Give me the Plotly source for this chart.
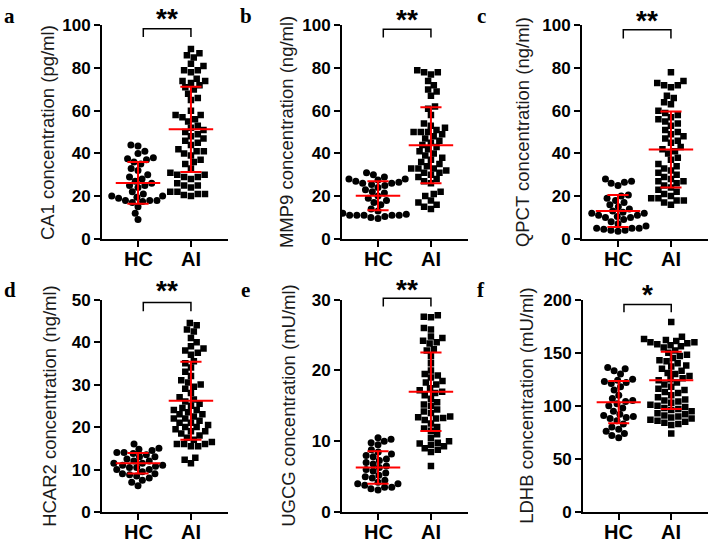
import math
import plotly.graph_objects as go

W, H = 709, 552

groups = ["HC", "AI"]

# ---- data ----
ca1_hc = [44, 43.5, 41, 40, 38, 37.5, 37, 36, 35, 33, 32, 30, 29, 28, 27, 26, 25, 25, 24,
          22, 21, 20, 20, 19.5, 19, 18, 18, 18, 17.5, 17, 15, 12, 9]
ca1_ai = [89, 87, 86, 85, 82, 81, 79, 79, 78, 75, 74, 74, 73, 72, 71, 70, 68, 66, 65, 60,
          58, 58, 57, 56, 55, 53, 52, 51, 50, 49, 48, 47, 46, 45, 44, 42, 41, 41, 40, 39,
          37, 36, 35, 33, 31, 30, 30, 29, 29, 28, 26, 25, 25, 24, 22, 22, 21, 21, 20.5, 20]
ca1_mean = [26.2, 51.3]
ca1_sd = [9.8, 20.0]

mmp9_hc = [31, 30, 29, 28, 28, 27.5, 27, 26.5, 26, 26, 25.5, 25, 24, 23, 22, 21.5, 20, 19,
           18, 17, 16, 14, 13, 12, 11.5, 11, 11, 11, 11, 11, 10.5, 10, 9.5]
mmp9_ai = [79, 78, 78, 77, 74, 72, 70, 69, 67, 62, 61, 58, 54, 53, 52, 51, 50, 50, 50, 49,
           48, 47, 46, 45, 44, 43, 42, 41, 40, 39, 38, 37, 36, 35, 34, 33, 33, 33, 32, 31,
           31, 30, 29, 28, 27, 26, 22, 21, 20, 18, 17, 16, 15, 14]
mmp9_mean = [20.2, 43.8]
mmp9_sd = [6.8, 17.8]

qpct_hc = [28, 27, 26.5, 26, 25, 20.5, 20, 19, 18, 17, 16, 15, 14, 13, 12.5, 12, 12, 11,
           11, 10.5, 10, 10, 9, 8, 7, 6, 5, 5, 5, 4.5, 4, 4, 3.5]
qpct_ai = [78, 74, 73, 72, 72, 71, 67, 66, 64, 63, 60, 59, 58, 57, 56, 55, 54, 53, 51, 50,
           49, 48, 47, 46, 45, 43, 42, 41, 40, 38, 37, 35, 34, 33, 32, 31, 30, 29, 28, 27,
           27, 26, 25, 24, 23, 22, 21, 20, 19, 19, 18, 18, 17, 16]
qpct_mean = [13.0, 41.9]
qpct_sd = [7.5, 17.8]

hcar2_hc = [16, 15, 14.8, 14.5, 14, 14, 13.8, 13.5, 13, 13, 12.5, 12, 12, 11.5, 11.5, 11,
            11, 10.8, 10.5, 10.5, 10, 10, 9.5, 9, 9, 8.8, 8.5, 8, 7.5, 7, 6.2]
hcar2_ai = [44.5, 44, 43, 42.5, 41, 40, 39, 38.5, 38, 37.5, 37, 35.5, 35, 34, 33, 32, 31,
            30.5, 30, 29.5, 29, 28, 27, 26.5, 26, 25.5, 25, 24.5, 24, 24, 23.5, 23, 23,
            22.5, 22, 22, 21.5, 21, 21, 20.5, 20, 20, 19.5, 19, 19, 18.5, 18, 17.5, 17,
            16.5, 16, 16, 16, 15.5, 15.5, 12.8, 12.3, 11.5]
hcar2_mean = [11.5, 26.2]
hcar2_sd = [2.4, 9.2]

ugcg_hc = [10.5, 10.3, 10, 9.8, 9.5, 8.8, 8.5, 8.2, 8, 7.8, 7.5, 7.3, 7, 6.8, 6.5, 6.3, 6,
           5.8, 5.5, 5.2, 5, 4.8, 4.5, 4.2, 4, 4, 3.8, 3.5, 3.5, 3.3, 3.1]
ugcg_ai = [27.8, 27.6, 27.5, 26, 25.8, 24.8, 24.6, 24.2, 24, 23.8, 23, 22.8, 22, 21, 20,
           19.5, 19.3, 19, 18.5, 18.3, 18, 17.5, 17.2, 17, 16.8, 16.5, 16, 15.5, 15.2, 15,
           14.5, 14.2, 14, 13.5, 13.4, 13.3, 13.2, 13, 12.5, 12, 11.8, 11.5, 11, 10.5, 10,
           9.8, 9.7, 9.5, 9.3, 9, 8.8, 8.5, 6.5]
ugcg_mean = [6.3, 17.0]
ugcg_sd = [2.3, 5.55]

ldhb_hc = [136, 135, 133, 130, 125, 124, 123, 122, 121, 118, 115, 110, 107, 105, 104, 102,
           100, 98, 95, 92, 91, 90, 89, 88, 86, 83, 80, 78, 76, 74, 72, 70]
ldhb_ai = [179, 165, 163, 162, 161, 160, 160, 159, 158, 157, 156, 155, 152, 150, 148, 147,
           145, 143, 142, 140, 138, 137, 135, 133, 131, 130, 128, 126, 125, 124, 122, 120,
           118, 116, 115, 113, 112, 110, 108, 106, 105, 104, 103, 101, 100, 99, 98, 97, 96,
           95, 93, 92, 91, 90, 89, 88, 87, 86, 85, 84, 83, 82, 74]
ldhb_mean = [103.5, 124.0]
ldhb_sd = [19.9, 27.0]

titles = ["CA1 concentration (pg/ml)", "MMP9 concentration (ng/ml)",
          "QPCT concentration (ng/ml)", "HCAR2 concentration (ng/ml)",
          "UGCG concentration (mU/ml)", "LDHB concentration (mU/ml)"]
letters = ["a", "b", "c", "d", "e", "f"]
stars = ["**", "**", "**", "**", "**", "*"]
y_max = [100, 100, 100, 50, 30, 200]
y_step = [20, 20, 20, 10, 10, 50]

# ---- layout geometry (pixels) ----
xdom_px = [(102, 228), (342, 468), (582, 708), (102, 228), (342, 468), (583, 708)]
ydom_px = [(17, 238)] * 3 + [(301, 521)] * 3
title_x_px = [47, 286, 522, 50, 289, 527]
letter_x_px = [2, 238, 475, 2, 239, 475]
bracket_px = [(20.5, 29), (21, 29.5), (21.5, 30.5), (304, 313), (299.5, 308), (306, 314)]
star_px = [10, 11, 12, 292, 290, 296]
XR = (-0.68, 1.7)

hc_all = [ca1_hc, mmp9_hc, qpct_hc, hcar2_hc, ugcg_hc, ldhb_hc]
ai_all = [ca1_ai, mmp9_ai, qpct_ai, hcar2_ai, ugcg_ai, ldhb_ai]
mean_all = [ca1_mean, mmp9_mean, qpct_mean, hcar2_mean, ugcg_mean, ldhb_mean]
sd_all = [ca1_sd, mmp9_sd, qpct_sd, hcar2_sd, ugcg_sd, ldhb_sd]


def px(y):
    return 1 - y / H


def swarm(vals, ppu_y, ppu_x, d):
    placed = []
    offs = [0.0] * len(vals)
    order = sorted(range(len(vals)), key=lambda i: vals[i])
    for k, i in enumerate(order):
        y = vals[i] * ppu_y
        cands = [0.0]
        for (yy, xx) in placed:
            dy = abs(y - yy)
            if dy < d:
                dx = math.sqrt(d * d - dy * dy)
                cands += [xx + dx, xx - dx]
        cands.sort(key=lambda c: (abs(c), c if k % 2 else -c))
        chosen = 0.0
        for c in cands:
            if all((c - xx) ** 2 + (y - yy) ** 2 >= d * d - 1e-6 for yy, xx in placed):
                chosen = c
                break
        placed.append((y, chosen))
        offs[i] = chosen / ppu_x
    return offs


fig = go.Figure()
FONT = "Liberation Sans, Arial, sans-serif"
RED = "#ff0000"
annotations = []
shapes = []

for p in range(6):
    ax = "" if p == 0 else str(p + 1)
    xa, ya = "x" + ax, "y" + ax
    x0, x1 = xdom_px[p]
    yt, yb = ydom_px[p]
    ppu_x = (x1 - x0) / (XR[1] - XR[0])
    ppu_y = (yb - yt) / y_max[p]

    for g, (vals, sym, size) in enumerate([(hc_all[p], "circle", 7), (ai_all[p], "square", 6.5)]):
        offs = swarm(vals, ppu_y, ppu_x, 7.2)
        fig.add_trace(go.Scatter(
            x=[g + o for o in offs], y=vals, mode="markers", xaxis=xa, yaxis=ya,
            marker=dict(symbol=sym, size=size, color="black", line=dict(width=0)),
            showlegend=False, hoverinfo="y"))
        m, s = mean_all[p][g], sd_all[p][g]
        mw, cw = 0.42, 0.2
        fig.add_trace(go.Scatter(
            x=[g - mw, g + mw, None, g, g, None, g - cw, g + cw, None, g - cw, g + cw],
            y=[m, m, None, m - s, m + s, None, m + s, m + s, None, m - s, m - s],
            mode="lines", line=dict(color=RED, width=2), xaxis=xa, yaxis=ya,
            showlegend=False, hoverinfo="skip"))
        annotations.append(dict(text=groups[g], x=g, y=px(yb + 20.5), xref=xa, yref="paper",
                                showarrow=False, xanchor="center", yanchor="middle",
                                font=dict(family=FONT, size=20, color="black", weight="bold")))

    common = dict(showline=True, linecolor="black", linewidth=2, ticks="outside",
                  ticklen=6, tickwidth=2, tickcolor="black", showgrid=False,
                  zeroline=False, fixedrange=True)
    fig.layout["xaxis" + ax] = dict(
        domain=[x0 / W, x1 / W], range=list(XR), anchor=ya,
        tickvals=[0, 1], showticklabels=False, **common)
    fig.layout["yaxis" + ax] = dict(
        domain=[px(yb), px(yt)], range=[0, y_max[p]], anchor=xa, dtick=y_step[p],
        tickfont=dict(family=FONT, size=17, color="black", weight="bold"), **common)

    annotations.append(dict(text=titles[p], x=title_x_px[p] / W, y=px((yt + yb) / 2),
                            xref="paper", yref="paper", textangle=-90, showarrow=False,
                            xanchor="center", yanchor="middle",
                            font=dict(family=FONT, size=18.5, color="#1a1a1a")))
    annotations.append(dict(text=letters[p], x=letter_x_px[p] / W, y=px(yt + 5),
                            xref="paper", yref="paper", showarrow=False,
                            xanchor="left", yanchor="bottom",
                            font=dict(family="Liberation Serif, Times New Roman, serif",
                                      size=21, color="black", weight="bold")))
    bt, bb = bracket_px[p]
    shapes.append(dict(type="path", xref=xa, yref="paper",
                       path=f"M 0.1,{px(bb)} L 0.1,{px(bt)} L 1,{px(bt)} L 1,{px(bb)}",
                       line=dict(color="black", width=1.5)))
    annotations.append(dict(text=stars[p], x=0.55, y=px(star_px[p]), xref=xa, yref="paper",
                            showarrow=False, xanchor="center", yanchor="middle",
                            font=dict(family=FONT, size=28, color="black", weight="bold")))

fig.update_layout(width=W, height=H, margin=dict(l=0, r=0, t=0, b=0),
                  plot_bgcolor="white", paper_bgcolor="white",
                  annotations=annotations, shapes=shapes, showlegend=False)
fig.write_html("out.html", config={"displayModeBar": False},
               post_script="document.body.style.margin='0';document.body.style.padding='0';")
